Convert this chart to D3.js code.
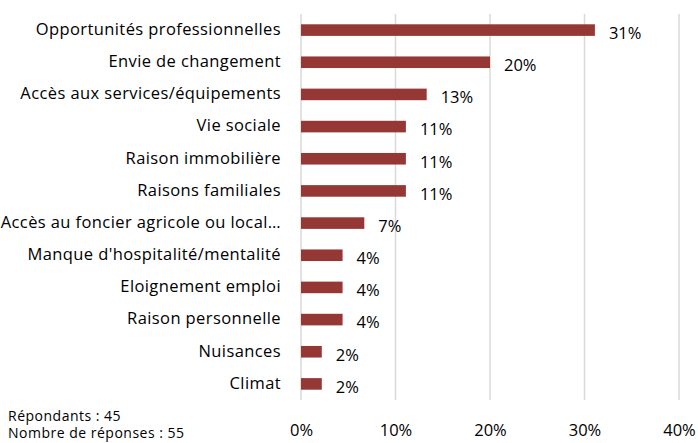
<!DOCTYPE html>
<html>
<head>
<meta charset="utf-8">
<script src="https://cdn.jsdelivr.net/npm/d3@7"></script>
<style>
  body { margin: 0; background: #fff; }
  svg { display: block; font-family: "Open Sans", sans-serif; }
</style>
</head>
<body>
<svg id="chart" width="698" height="443"></svg>
<script>
// raisons de départ (share of 45 respondents)
const categories = [
  "Opportunités professionnelles",
  "Envie de changement",
  "Accès aux services/équipements",
  "Vie sociale",
  "Raison immobilière",
  "Raisons familiales",
  "Accès au foncier agricole ou local…",
  "Manque d'hospitalité/mentalité",
  "Eloignement emploi",
  "Raison personnelle",
  "Nuisances",
  "Climat"
];
const values = [31.1, 20.0, 13.3, 11.1, 11.1, 11.1, 6.7, 4.4, 4.4, 4.4, 2.2, 2.2];
const valueLabels = ["31%", "20%", "13%", "11%", "11%", "11%", "7%", "4%", "4%", "4%", "2%", "2%"];
const tickValues = [0, 10, 20, 30, 40];
const notes = ["Répondants : 45", "Nombre de réponses : 55"];

let svg = d3.select('#chart');
let margin = { top: 14, right: 19, bottom: 43, left: 301 };
let width = +svg.attr('width');
let height = +svg.attr('height');

let x = d3.scaleLinear()
    .domain([0, 40])
    .range([margin.left, width - margin.right]);

let y = d3.scaleBand()
    .domain(categories)
    .range([margin.top, height - margin.bottom])
    .paddingInner(0.64)
    .paddingOuter(0.32);

// gridlines
svg.append("g")
    .selectAll("line")
    .data(tickValues)
    .join("line")
        .attr("x1", d => x(d))
        .attr("x2", d => x(d))
        .attr("y1", margin.top)
        .attr("y2", height - margin.bottom)
        .attr("stroke", "#d9d9d9")
        .attr("stroke-width", 1.5);

// bars
svg.append("g")
    .selectAll("rect")
    .data(values)
    .join("rect")
        .attr("x", x(0))
        .attr("y", (d, i) => y(categories[i]))
        .attr("width", d => x(d) - x(0))
        .attr("height", y.bandwidth())
        .attr("fill", "#953735");

// value labels
svg.append("g")
    .selectAll("text")
    .data(values)
    .join("text")
        .attr("x", d => x(d) + 14)
        .attr("y", (d, i) => y(categories[i]) + y.bandwidth() / 2 + 3)
        .attr("dy", "0.35em")
        .attr("font-size", 16.5)
        .attr("fill", "#000")
        .text((d, i) => valueLabels[i]);

// category labels
svg.append("g")
    .selectAll("text")
    .data(categories)
    .join("text")
        .attr("x", margin.left - 20)
        .attr("y", d => y(d) + y.bandwidth() / 2 - 1)
        .attr("dy", "0.35em")
        .attr("text-anchor", "end")
        .attr("font-size", 16.5)
        .attr("letter-spacing", 0.4)
        .attr("fill", "#000")
        .text(d => d);

// x axis labels
let xAxis = d3.axisBottom(x)
    .tickValues(tickValues)
    .tickFormat(d => d + "%")
    .tickSize(0)
    .tickPadding(0);

let ax = svg.append("g")
    .attr("transform", `translate(0, ${height - 19})`)
    .call(xAxis);
ax.select(".domain").remove();
ax.selectAll("text")
    .attr("font-size", 16.5)
    .attr("font-family", "'Open Sans', sans-serif")
    .attr("fill", "#000");

// notes
svg.append("g")
    .selectAll("text")
    .data(notes)
    .join("text")
        .attr("x", 8)
        .attr("y", (d, i) => 420.5 + i * 17.5)
        .attr("font-size", 14)
        .attr("letter-spacing", 0.5)
        .attr("fill", "#000")
        .text(d => d);
</script>
</body>
</html>
